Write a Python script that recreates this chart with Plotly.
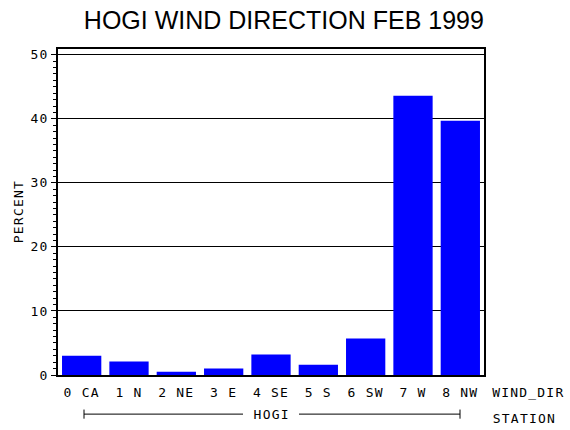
import plotly.graph_objects as go

# wind direction categories and monthly percent
directions = ["0 CA", "1 N", "2 NE", "3 E", "4 SE", "5 S", "6 SW", "7 W", "8 NW"]
percent = [3.0, 2.1, 0.5, 1.0, 3.2, 1.6, 5.7, 43.6, 39.7]
y_ticks = [0, 10, 20, 30, 40, 50]

MONO = "DejaVu Sans Mono"

fig = go.Figure(
    go.Bar(
        x=list(range(len(directions))),
        y=percent,
        marker=dict(color="#0000ff", line=dict(width=0)),
        hoverinfo="skip",
    )
)

fig.update_layout(
    width=570,
    height=430,
    margin=dict(l=58, r=86, t=49, b=55),
    paper_bgcolor="white",
    plot_bgcolor="white",
    showlegend=False,
    bargap=0.17,
    title=dict(
        text="HOGI WIND DIRECTION FEB 1999",
        font=dict(family="Liberation Sans", size=25, color="black"),
        x=0.498,
        xref="container",
        xanchor="center",
        y=0.953,
        yanchor="middle",
    ),
)

fig.update_xaxes(
    range=[-0.5, len(directions) - 0.5],
    tickvals=list(range(len(directions))),
    ticktext=directions,
    tickfont=dict(family=MONO, size=13, color="black"),
    ticks="",
    ticklabelstandoff=5,
    showgrid=False,
    zeroline=False,
    showline=True,
    linecolor="black",
    linewidth=1.5,
    mirror=True,
)

fig.update_yaxes(
    range=[0, 50.9],
    tickvals=y_ticks,
    tickfont=dict(family=MONO, size=13, color="black"),
    ticks="outside",
    ticklen=5,
    tickcolor="black",
    showgrid=True,
    gridcolor="black",
    gridwidth=1,
    zeroline=False,
    showline=True,
    linecolor="black",
    linewidth=1.5,
    mirror=True,
    minor=dict(dtick=1, ticks="outside", ticklen=3, tickcolor="black", showgrid=False),
)

label_font = dict(family=MONO, size=13, color="black")
fig.add_annotation(text="PERCENT", textangle=-90, x=(18 - 58) / 426, y=0.5,
                   xref="paper", yref="paper", xanchor="center", yanchor="middle",
                   showarrow=False, font=label_font)
fig.add_annotation(text="WIND_DIR", x=1.025, y=-0.054, xref="paper", yref="paper",
                   xanchor="left", yanchor="middle", showarrow=False, font=label_font)
fig.add_annotation(text="STATION", x=1.025, y=-0.133, xref="paper", yref="paper",
                   xanchor="left", yanchor="middle", showarrow=False, font=label_font)
fig.add_annotation(text="HOGI", x=(271 - 58) / 426, y=-0.12, xref="paper", yref="paper",
                   xanchor="center", yanchor="middle", showarrow=False, font=label_font)

# station bracket under the category labels
y_br = -0.12
x_l, x_r = (84 - 58) / 426, (460 - 58) / 426
gap_l, gap_r = (243 - 58) / 426, (299 - 58) / 426
line_style = dict(color="black", width=1)
for x0, x1 in [(x_l, gap_l), (gap_r, x_r)]:
    fig.add_shape(type="line", xref="paper", yref="paper", x0=x0, x1=x1,
                  y0=y_br, y1=y_br, line=line_style)
for xe in (x_l, x_r):
    fig.add_shape(type="line", xref="paper", yref="paper", x0=xe, x1=xe,
                  y0=y_br - 0.014, y1=y_br + 0.014, line=line_style)

# drop the page margin and widen letter spacing like the old stroke font
post = (
    "document.body.style.margin='0';"
    "document.querySelectorAll('.xtick text,.ytick text,.annotation-text')"
    ".forEach(function(t){t.style.letterSpacing='1.2px';});"
)

fig.write_html("out.html", post_script=post, config={"displayModeBar": False})
